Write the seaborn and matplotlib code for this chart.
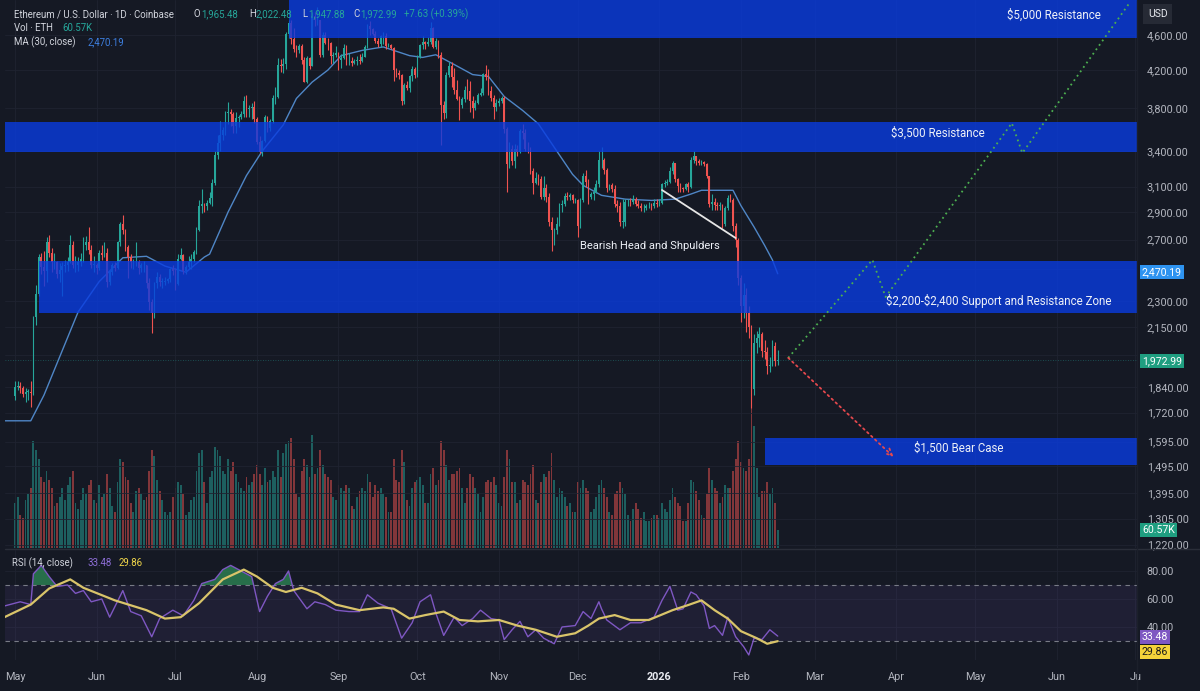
import numpy as np
import pandas as pd
import matplotlib
matplotlib.use('Agg')
import matplotlib.pyplot as plt
from matplotlib.ticker import FixedLocator, NullLocator, FuncFormatter
import seaborn as sns

# --- ETH/USD daily candles (Coinbase) ---
start = pd.Timestamp('2025-05-01')
first_open = 1795

may_close = [1840, 1842, 1835, 1808, 1815, 1815, 1810, 2205, 2345, 2580, 2515, 2490, 2680, 2610, 2545, 2545,
             2470, 2495, 2520, 2525, 2550, 2660, 2525, 2530, 2550, 2565, 2660, 2680, 2630, 2530, 2530]
may_high = [1870, 1870, 1865, 1845, 1835, 1830, 1870, 2210, 2400, 2600, 2605, 2620, 2720, 2735, 2640, 2610,
            2555, 2540, 2550, 2560, 2580, 2735, 2690, 2590, 2580, 2610, 2715, 2725, 2790, 2660, 2590]
may_low = [1780, 1825, 1810, 1790, 1770, 1780, 1745, 1800, 2160, 2330, 2470, 2395, 2420, 2580, 2480, 2500,
           2440, 2420, 2330, 2480, 2490, 2540, 2510, 2480, 2490, 2520, 2545, 2630, 2600, 2510, 2480]

jun_close = [2510, 2605, 2595, 2610, 2420, 2480, 2525, 2510, 2680, 2810, 2770, 2645, 2580, 2545, 2545,
             2550, 2510, 2525, 2525, 2410, 2295, 2230, 2410, 2450, 2420, 2420, 2425, 2435, 2500, 2485]
jun_high = [2540, 2630, 2660, 2680, 2640, 2495, 2540, 2545, 2690, 2830, 2880, 2775, 2660, 2600, 2570,
            2680, 2560, 2540, 2555, 2530, 2440, 2310, 2420, 2480, 2470, 2440, 2450, 2445, 2510, 2530]
jun_low = [2470, 2495, 2560, 2580, 2385, 2400, 2460, 2490, 2500, 2655, 2740, 2620, 2440, 2510, 2500,
           2520, 2470, 2480, 2480, 2380, 2250, 2115, 2200, 2380, 2390, 2380, 2400, 2410, 2420, 2460]

jul_close = [2405, 2570, 2595, 2490, 2515, 2545, 2570, 2615, 2770, 2950, 2960, 2945, 2970, 3010, 3130, 3370,
             3475, 3545, 3590, 3755, 3760, 3745, 3630, 3705, 3720, 3745, 3875, 3795, 3800, 3810, 3700]
jul_high = [2510, 2600, 2640, 2600, 2525, 2590, 2600, 2630, 2790, 2990, 3080, 2970, 2990, 3060, 3160, 3400,
            3550, 3680, 3620, 3770, 3860, 3790, 3760, 3760, 3740, 3775, 3920, 3940, 3830, 3850, 3870]
jul_low = [2370, 2400, 2560, 2470, 2470, 2500, 2500, 2545, 2600, 2760, 2890, 2900, 2920, 2960, 2950, 3110,
           3330, 3400, 3500, 3550, 3650, 3630, 3560, 3560, 3620, 3700, 3720, 3720, 3720, 3700, 3660]

aug_close = [3480, 3395, 3495, 3720, 3610, 3680, 3900, 3910, 4260, 4240, 4270, 4610, 4745, 4555, 4440, 4420,
             4475, 4310, 4075, 4330, 4240, 4835, 4780, 4780, 4370, 4600, 4510, 4505, 4360, 4370, 4390]
aug_high = [3720, 3540, 3500, 3740, 3730, 3700, 3930, 4020, 4330, 4320, 4330, 4640, 4790, 4785, 4680, 4480,
            4500, 4490, 4350, 4360, 4350, 4880, 4890, 4950, 4780, 4640, 4640, 4560, 4520, 4400, 4470]
aug_low = [3460, 3380, 3360, 3480, 3570, 3580, 3660, 3840, 3900, 4180, 4170, 4210, 4560, 4500, 4400, 4340,
           4390, 4270, 4070, 4060, 4210, 4240, 4710, 4720, 4340, 4340, 4490, 4420, 4270, 4280, 4340]

sep_close = [4310, 4330, 4450, 4300, 4300, 4275, 4305, 4310, 4300, 4350, 4460, 4715, 4670, 4610, 4525,
             4500, 4590, 4590, 4475, 4480, 4450, 4200, 4165, 4150, 3870, 4035, 4010, 4140, 4215, 4145]
sep_high = [4400, 4380, 4490, 4480, 4390, 4340, 4320, 4360, 4380, 4390, 4480, 4740, 4770, 4690, 4650,
            4560, 4600, 4640, 4620, 4510, 4490, 4460, 4220, 4200, 4160, 4060, 4080, 4150, 4240, 4230]
sep_low = [4200, 4220, 4320, 4250, 4260, 4240, 4270, 4260, 4270, 4290, 4340, 4450, 4600, 4600, 4510,
           4460, 4460, 4490, 4440, 4460, 4440, 4080, 4120, 4100, 3830, 3840, 3990, 3970, 4080, 4110]

oct_close = [4350, 4485, 4515, 4490, 4515, 4690, 4460, 4525, 4365, 3830, 3750, 4150, 4245, 4120, 3985, 3895,
             3830, 3890, 3985, 3980, 3875, 3805, 3855, 3930, 3955, 4160, 4120, 3980, 3900, 3810, 3850]
oct_high = [4370, 4500, 4590, 4530, 4580, 4760, 4700, 4560, 4540, 4400, 3870, 4180, 4290, 4290, 4220, 4090,
            3920, 3910, 4030, 4100, 4080, 3920, 3880, 3960, 4010, 4170, 4260, 4210, 4030, 3940, 3890]
oct_low = [4120, 4330, 4440, 4440, 4470, 4500, 4450, 4440, 4330, 3450, 3700, 3710, 4120, 4020, 3950, 3880,
           3690, 3800, 3860, 3890, 3760, 3710, 3780, 3840, 3920, 3930, 4090, 3940, 3870, 3700, 3770]

nov_close = [3875, 3905, 3600, 3290, 3420, 3315, 3420, 3395, 3580, 3565, 3420, 3415, 3230, 3130, 3170,
             3160, 3015, 3085, 3020, 2830, 2765, 2770, 2810, 2955, 2960, 3025, 3020, 3035, 2990, 2990]
nov_high = [3900, 3920, 3920, 3620, 3480, 3450, 3460, 3450, 3600, 3650, 3600, 3480, 3440, 3250, 3220,
            3200, 3190, 3190, 3120, 3050, 2860, 2780, 2860, 2970, 2990, 3050, 3060, 3050, 3040, 3010]
nov_low = [3820, 3850, 3560, 3060, 3250, 3280, 3250, 3360, 3380, 3510, 3400, 3380, 3200, 3040, 3120,
           3110, 3000, 2990, 2980, 2800, 2620, 2660, 2740, 2800, 2900, 2950, 2990, 2990, 2970, 2970]

dec_close = [2800, 2995, 3190, 3135, 3020, 3040, 3060, 3120, 3320, 3320, 3240, 3085, 3110, 3080, 2960, 2950,
             2830, 2830, 2975, 2980, 2975, 3005, 2965, 2950, 2930, 2935, 2945, 2950, 2945, 2970, 2965]
dec_high = [3000, 3010, 3210, 3240, 3160, 3060, 3100, 3150, 3400, 3440, 3340, 3250, 3120, 3130, 3110, 2990,
            2980, 3000, 3000, 3000, 3010, 3030, 3020, 2990, 2970, 2960, 2960, 2980, 2970, 3000, 3000]
dec_low = [2720, 2780, 2980, 3100, 2960, 3000, 2990, 3050, 3100, 3250, 3200, 3060, 3070, 3060, 2940, 2900,
           2800, 2780, 2800, 2950, 2950, 2960, 2950, 2930, 2910, 2900, 2920, 2930, 2920, 2930, 2940]

jan_close = [2970, 3120, 3125, 3140, 3225, 3295, 3160, 3105, 3085, 3080, 3120, 3095, 3325, 3355, 3315, 3300,
             3305, 3290, 3190, 2960, 2980, 2955, 2950, 2950, 2815, 2930, 3010, 2995, 2800, 2700, 2440]
jan_high = [3000, 3130, 3150, 3160, 3260, 3310, 3300, 3170, 3130, 3100, 3130, 3140, 3350, 3400, 3360, 3330,
            3320, 3310, 3300, 3190, 3040, 3010, 2980, 2980, 2960, 2950, 3030, 3040, 3010, 2820, 2710]
jan_low = [2950, 2960, 3100, 3110, 3130, 3200, 3140, 3060, 3060, 3060, 3070, 3060, 3090, 3300, 3280, 3280,
           3280, 3270, 3170, 2940, 2920, 2920, 2920, 2920, 2780, 2800, 2920, 2980, 2760, 2650, 2400]

feb_close = [2270, 2340, 2230, 2150, 1830, 2060, 2090, 2110, 2020, 2015, 1940, 1950, 2045, 1965.48, 1972.99]
feb_high = [2460, 2410, 2380, 2270, 2160, 2110, 2130, 2150, 2120, 2080, 2040, 1990, 2080, 2070, 2022.48]
feb_low = [2180, 2200, 2120, 2090, 1740, 1800, 2010, 2040, 1990, 1980, 1900, 1910, 1940, 1940, 1947.88]

# volume, thousands of ETH
may_vol = [150, 170, 110, 100, 160, 180, 200, 360, 330, 300, 240, 220, 260, 230, 200, 140,
           150, 170, 200, 160, 210, 240, 260, 150, 130, 160, 200, 180, 210, 230, 160]
jun_vol = [150, 210, 170, 180, 250, 200, 140, 120, 220, 300, 290, 240, 230, 150, 120,
           190, 200, 180, 160, 170, 260, 330, 310, 230, 190, 160, 120, 110, 120, 170]
jul_vol = [200, 220, 210, 180, 110, 120, 160, 170, 260, 320, 330, 220, 150, 240, 260, 340,
           330, 310, 260, 250, 300, 260, 290, 250, 220, 200, 190, 240, 210, 220, 250]
aug_vol = [280, 250, 210, 270, 220, 230, 260, 240, 330, 240, 320, 350, 360, 370, 300, 180,
           170, 260, 300, 280, 240, 380, 250, 270, 330, 280, 250, 240, 230, 170, 160]
sep_vol = [210, 200, 190, 210, 200, 140, 130, 170, 190, 200, 190, 250, 220, 170, 210,
           190, 200, 180, 170, 120, 120, 300, 230, 220, 330, 290, 160, 140, 200, 220]
oct_vol = [230, 240, 210, 150, 150, 250, 270, 210, 230, 360, 330, 280, 230, 250, 250, 260,
           270, 200, 150, 200, 250, 240, 200, 180, 120, 170, 220, 230, 220, 240, 210]
nov_vol = [150, 140, 240, 330, 300, 220, 220, 150, 160, 230, 220, 210, 250, 280, 160,
           150, 220, 250, 240, 260, 320, 230, 170, 200, 190, 170, 140, 150, 120, 120]
dec_vol = [220, 200, 230, 200, 190, 120, 130, 170, 210, 230, 200, 170, 120, 110, 180, 190,
           220, 200, 180, 110, 90, 130, 150, 130, 100, 120, 90, 90, 100, 110, 110]
jan_vol = [100, 150, 130, 120, 160, 200, 170, 150, 140, 90, 90, 150, 230, 220, 190, 160,
           110, 100, 180, 270, 230, 200, 190, 150, 170, 210, 200, 200, 260, 300, 360]
feb_vol = [290, 270, 260, 300, 470, 410, 270, 170, 190, 190, 220, 180, 200, 150, 60.57]

# MA(30, close) (days after May 1 2025)
ma_day = [-4, 6, 11, 24, 32, 41, 50, 57, 65, 72, 74, 81, 88, 94, 102, 107, 113, 119, 124, 132,
          140, 150, 155, 160, 167, 174, 180, 186, 193, 199, 206, 212, 216, 223, 232, 242, 251, 257,
          261, 273, 276, 281, 285, 288, 290]
ma_val = [1684, 1684, 1800, 2236, 2420, 2575, 2585, 2520, 2480, 2580, 2600, 2900, 3190, 3400, 3640,
          3900, 4070, 4200, 4360, 4420, 4460, 4360, 4340, 4370, 4260, 4150, 4130, 3920, 3780, 3650,
          3400, 3200, 3110, 3030, 3000, 2990, 3000, 3040, 3070, 3070, 2950, 2790, 2660, 2560, 2470.19]

# RSI(14) and its moving average
rsi_day = [-4, 2, 6, 7, 10, 13, 16, 20, 23, 26, 29, 33, 36, 41, 44, 48, 52, 55, 60, 64, 68, 71, 76,
           79, 82, 86, 90, 93, 96, 99, 102, 104, 106, 111, 114, 118, 122, 127, 131, 134, 138, 143,
           147, 151, 154, 158, 160, 163, 167, 170, 174, 177, 181, 184, 186, 189, 192, 195, 198, 201,
           205, 208, 213, 216, 219, 222, 223, 225, 230, 234, 238, 243, 246, 249, 252, 254, 257, 259,
           262, 264, 266, 269, 271, 274, 277, 279, 281, 284, 287, 290]
rsi_val = [55, 58, 56, 78, 84, 76, 69, 70, 64, 66, 58, 60, 47, 66, 51, 48, 33, 46, 52, 48, 59, 71, 74,
           81, 84, 80, 76, 51, 62, 71, 74, 80, 66, 53, 58, 56, 52, 51, 51, 63, 57, 53,
           32, 43, 58, 63, 50, 34, 47, 41, 46, 52, 46, 45, 31, 38, 44, 33, 38, 32,
           28, 40, 41, 51, 46, 58, 53, 45, 38, 43, 43, 47, 59, 69, 52, 53, 65, 63,
           55, 39, 41, 34, 47, 33, 26, 20, 32, 31, 38, 33.48]
rsi_ma_day = [-4, 6, 13, 21, 26, 38, 50, 57, 63, 70, 79, 87, 92, 98, 103, 109, 115, 122, 131, 140, 144,
              150, 156, 163, 169, 176, 184, 191, 198, 206, 213, 218, 222, 228, 234, 241, 250, 256, 261,
              266, 271, 276, 282, 286, 290]
rsi_ma_val = [47, 56, 67.5, 74, 68, 59, 52, 46, 47, 57, 74, 81, 76, 68, 65, 68, 64, 56, 52, 54, 53,
              46, 48.5, 51, 45, 44, 45, 41, 38, 33, 35.5, 41, 46, 48.5, 45, 45, 52, 55.7, 59,
              52, 46, 37, 32, 28, 29.86]

price_ticks = [1220, 1305, 1395, 1495, 1595, 1720, 1840, 2000, 2150, 2300, 2500, 2700, 2900, 3100,
               3400, 3800, 4200, 4600]
hidden_ticks = [2000, 2500]  # covered by the last-value tags on the right
month_labels = ['May', 'Jun', 'Jul', 'Aug', 'Sep', 'Oct', 'Nov', 'Dec', '2026', 'Feb', 'Mar', 'Apr',
                'May', 'Jun', 'Ju']

# drawn zones
zone_start = ['2025-08-13', '2025-04-20', '2025-05-10', '2026-02-10']
zone_low = [4560, 3390, 2230, 1501]
zone_high = [5060, 3670, 2555, 1611]
zone_text = [r'\$5,000 Resistance', r'\$3,500 Resistance',
             r'\$2,200-\$2,400 Support and Resistance Zone', r'\$1,500 Bear Case']
zone_text_date = ['2026-05-31', '2026-04-17', '2026-03-28', '2026-04-25']
zone_text_price = [4846, 3563, 2301, 1567]
zone_text_ha = ['center', 'center', 'left', 'center']

# projections and pattern neckline
bull_dates = ['2026-02-19', '2026-03-23', '2026-03-28', '2026-05-15', '2026-05-19', '2026-06-29']
bull_prices = [1984, 2561, 2325, 3657, 3383, 5013]
bear_dates = ['2026-02-19', '2026-03-31']
bear_prices = [1984, 1533]
neck_dates = ['2026-01-02', '2026-01-30']
neck_prices = [3072, 2711]

# --- build frame ---
close = (may_close + jun_close + jul_close + aug_close + sep_close + oct_close + nov_close
         + dec_close + jan_close + feb_close)
high = may_high + jun_high + jul_high + aug_high + sep_high + oct_high + nov_high + dec_high + jan_high + feb_high
low = may_low + jun_low + jul_low + aug_low + sep_low + oct_low + nov_low + dec_low + jan_low + feb_low
vol = may_vol + jun_vol + jul_vol + aug_vol + sep_vol + oct_vol + nov_vol + dec_vol + jan_vol + feb_vol

df = pd.DataFrame({'date': pd.date_range(start, periods=len(close), freq='D'),
                   'open': [first_open] + close[:-1], 'high': high, 'low': low,
                   'close': close, 'vol': vol})
up_c, dn_c = '#26a69a', '#ef5350'
df['color'] = np.where(df['close'] >= df['open'], up_c, dn_c)

ma_dates = start + pd.to_timedelta(ma_day, unit='D')
rsi_dates = start + pd.to_timedelta(rsi_day, unit='D')
rsi_ma_dates = start + pd.to_timedelta(rsi_ma_day, unit='D')

bg = '#151924'
grid_c = '#1f2331'
label_c = '#b2b5be'
sns.set_theme(style='dark', rc={'figure.facecolor': bg, 'axes.facecolor': bg, 'axes.edgecolor': bg,
                                'text.color': '#d1d4dc', 'xtick.color': label_c, 'ytick.color': label_c,
                                'grid.color': grid_c})
plt.rcParams['font.family'] = ['Roboto', 'DejaVu Sans']

W, H = 1200, 691


def box(x0, y0, x1, y1):
    return [x0 / W, 1 - y1 / H, (x1 - x0) / W, (y1 - y0) / H]


xmin = start - pd.Timedelta(days=3.8)
xmax = start + pd.Timedelta(days=426.6)

fig = plt.figure(figsize=(12, 6.91), dpi=100)
ax = fig.add_axes(box(5, 0, 1137, 548))
axv = ax.twinx()
ax.set_zorder(axv.get_zorder() + 1)
ax.patch.set_visible(False)
axv.set_facecolor(bg)
axr = fig.add_axes(box(5, 550, 1137, 660), sharex=ax)

# volume
axv.bar(df['date'], df['vol'], width=0.7, color=df['color'], alpha=0.5, lw=0)
axv.set_ylim(0, 1840)
axv.set_yticks([])
axv.grid(False)

# price pane
ax.set_yscale('log')
sns.lineplot(x=ma_dates, y=ma_val, ax=ax, color='#4f86c6', lw=1, zorder=2)
ax.vlines(df['date'], df['low'], df['high'], colors=df['color'], lw=0.8, zorder=3)
body_lo = df[['open', 'close']].min(axis=1)
body_h = (df['close'] - df['open']).abs().clip(lower=3)
ax.bar(df['date'], body_h, bottom=body_lo, width=0.65, color=df['color'], lw=0, zorder=3)
ax.axhline(1972.99, color=up_c, ls=(0, (1, 2)), lw=0.6, alpha=0.5, zorder=2)

for s, lo, hi in zip(zone_start, zone_low, zone_high):
    ax.fill_between([pd.Timestamp(s), xmax], lo, hi, color='#093ce1', alpha=0.8, lw=0, zorder=4)
for t, d, p, ha in zip(zone_text, zone_text_date, zone_text_price, zone_text_ha):
    ax.text(pd.Timestamp(d), p, t, ha=ha, va='center', color='#eef1f8', fontsize=8.3, zorder=6)

ax.plot(pd.to_datetime(neck_dates), neck_prices, color='#e6e6e6', lw=1.3, zorder=5)
ax.text(pd.Timestamp('2025-12-02'), 2656, 'Bearish Head and Shpulders', ha='left', va='center',
        color='#eef1f8', fontsize=8, zorder=6)

ax.plot(pd.to_datetime(bull_dates), bull_prices, color='#4caf50', ls=(0, (1, 2)), lw=1.3, zorder=6)
ax.annotate('', xy=(pd.Timestamp(bear_dates[1]), bear_prices[1]),
            xytext=(pd.Timestamp(bear_dates[0]), bear_prices[0]),
            arrowprops=dict(arrowstyle='->', color='#e5484d', lw=1.3, ls=(0, (1, 2)),
                            shrinkA=0, shrinkB=0), zorder=6)

ax.set_ylim(1209, 5040)
ax.yaxis.set_major_locator(FixedLocator(price_ticks))
ax.yaxis.set_minor_locator(NullLocator())
ax.yaxis.set_major_formatter(FuncFormatter(lambda v, _: '' if v in hidden_ticks else f'{v:,.2f}'))
ax.yaxis.tick_right()
ax.tick_params(axis='y', length=0, pad=7, labelsize=7.8, colors=label_c)
ax.tick_params(axis='x', length=0, labelbottom=False)
ax.grid(True, color=grid_c, lw=0.6)
ax.set_xlabel('')
ax.set_ylabel('')

# RSI pane
axr.axhspan(30, 70, color='#7e57c2', alpha=0.1, lw=0)
for lvl in (70, 30):
    axr.axhline(lvl, color='#787b86', ls=(0, (4, 4)), lw=0.8)
rv = np.array(rsi_val, dtype=float)
axr.fill_between(rsi_dates, 70, rv, where=rv > 70, interpolate=True, color='#2e8b57', alpha=0.75, lw=0)
sns.lineplot(x=rsi_dates, y=rsi_val, ax=axr, color='#7e57c2', lw=1)
sns.lineplot(x=rsi_ma_dates, y=rsi_ma_val, ax=axr, color='#d9c46a', lw=1.6)
axr.set_ylim(16.4, 95)
axr.set_yticks([40, 60, 80])
axr.set_yticklabels(['40.00', '60.00', '80.00'])
axr.yaxis.tick_right()
axr.tick_params(axis='y', length=0, pad=7, labelsize=7.8, colors=label_c)
month_ticks = pd.date_range('2025-05-01', '2026-07-01', freq='MS')
axr.set_xticks(month_ticks)
axr.set_xticklabels(month_labels)
axr.tick_params(axis='x', length=0, pad=9, labelsize=7.8, colors=label_c)
axr.get_xticklabels()[8].set_color('#e8eaf0')
axr.get_xticklabels()[8].set_fontweight('bold')
axr.grid(True, color=grid_c, lw=0.6)
axr.set_xlabel('')
axr.set_ylabel('')
axr.set_xlim(xmin, xmax)

for a in (ax, axv, axr):
    for sp in a.spines.values():
        sp.set_visible(False)

fig.add_artist(plt.Line2D([5 / W, 1], [1 - 549 / H] * 2, color='#2a2e39', lw=1))
fig.add_artist(plt.Line2D([1137 / W] * 2, [0, 1], color='#1c202b', lw=1))


# header legend
def ftxt(x, y, s, color='#d1d4dc', size=6.9, **kw):
    fig.text(x / W, 1 - y / H, s, color=color, fontsize=size, va='center', ha='left', **kw)


ftxt(14, 14, 'Ethereum / U.S. Dollar · 1D · Coinbase')
for x, s, c in [(194, 'O', '#d1d4dc'), (201, '1,965.48', up_c), (249, 'H', '#d1d4dc'),
                (256, '2,022.48', up_c), (302, 'L', '#d1d4dc'), (308, '1,947.88', up_c),
                (353, 'C', '#d1d4dc'), (360, '1,972.99', up_c), (404, '+7.63 (+0.39%)', up_c)]:
    ftxt(x, 14, s, c)
ftxt(14, 28, 'Vol · ETH')
ftxt(62, 28, '60.57K', up_c)
ftxt(14, 42, 'MA (30, close)')
ftxt(88, 42, '2,470.19', '#3d7fe0')
ftxt(12, 563, 'RSI (14, close)')
ftxt(87, 563, '33.48', '#8e6fd8')
ftxt(119, 563, '29.86', '#f0d64a')

# right-hand value tags
for y, s, fc, tc in [(272, '2,470.19', '#2e93f0', 'white'), (361, '1,972.99', '#1f9e80', 'white'),
                     (530, '60.57K', '#1f9e80', 'white'), (637, '33.48', '#7e57c2', 'white'),
                     (652, '29.86', '#f5d33a', '#1a1a1a')]:
    fig.text(1142 / W, 1 - y / H, s, color=tc, fontsize=7.6, va='center', ha='left',
             bbox=dict(boxstyle='square,pad=0.18', fc=fc, ec='none'))
fig.text(1148 / W, 1 - 14 / H, 'USD', color='#e8eaf0', fontsize=7.5, va='center', ha='left',
         bbox=dict(boxstyle='square,pad=0.45', fc='#262a35', ec='none'))

fig.savefig('out.png', dpi=100, facecolor=bg)
